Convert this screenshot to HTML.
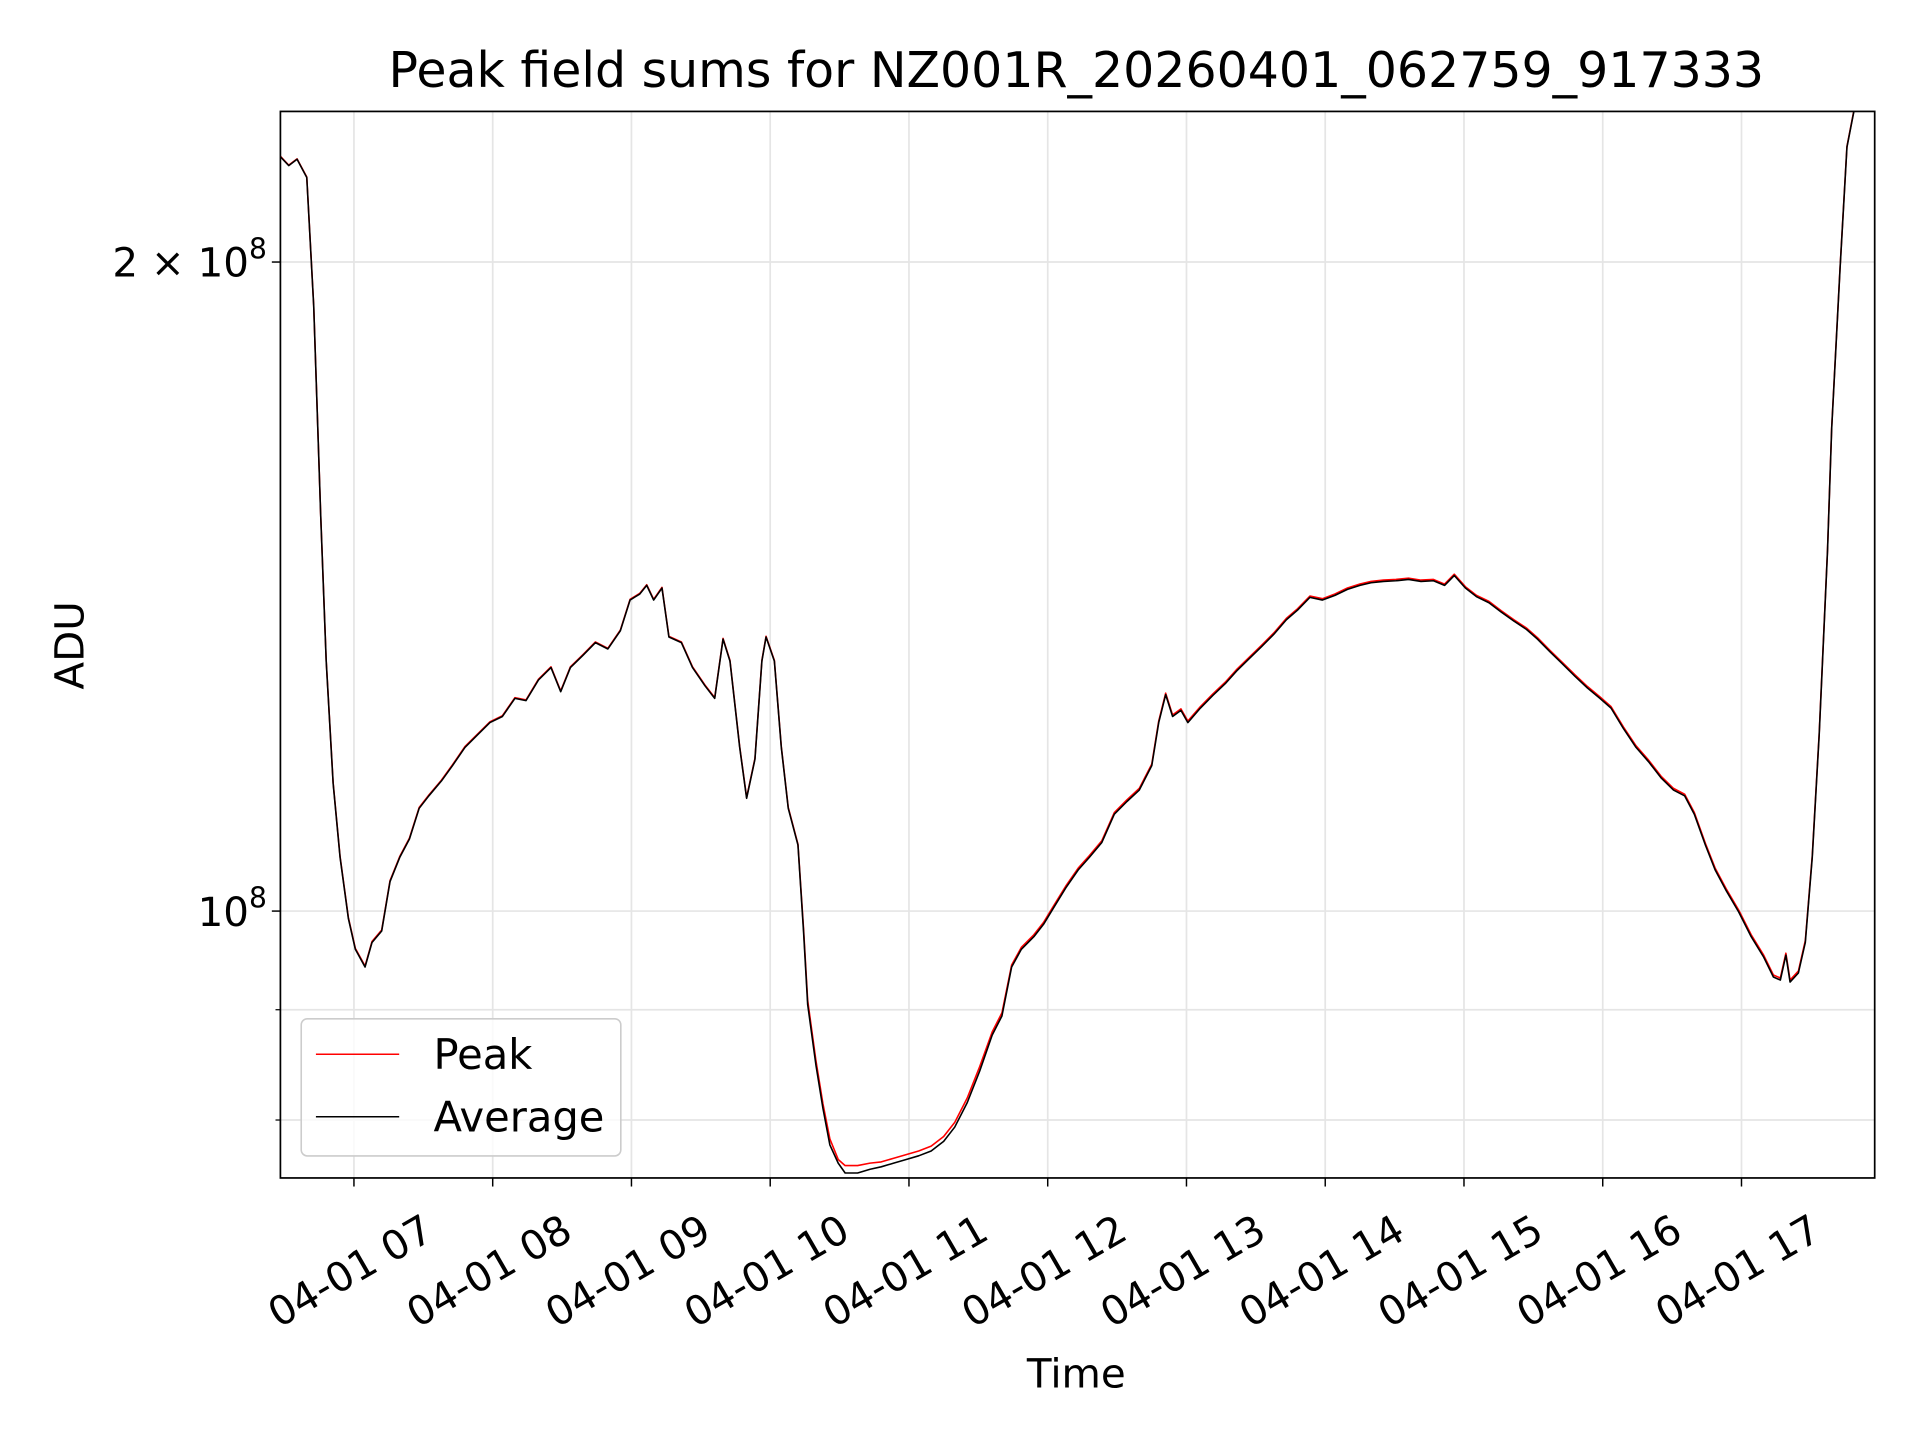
<!DOCTYPE html>
<html><head><meta charset="utf-8"><style>html,body{margin:0;padding:0;background:#fff}svg{display:block}text{font-family:"DejaVu Sans","Liberation Sans",sans-serif;fill:#000}</style></head>
<body>
<svg id="chart" width="1920" height="1440" viewBox="0 0 1568 1176" xmlns="http://www.w3.org/2000/svg">
<rect width="1568" height="1176" fill="#fff"/>
<g id="grid"></g>
<g id="series"></g>
<rect x="229" y="91" width="1302" height="871" fill="none" stroke="#000" stroke-width="1.4"/>
<g id="axes"></g>
<text x="879" y="71" font-size="40" text-anchor="middle">Peak field sums for NZ001R_20260401_062759_917333</text>
<text x="879" y="1133" font-size="33" text-anchor="middle">Time</text>
<text x="68" y="527" font-size="33" text-anchor="middle" transform="rotate(-90 68 527)">ADU</text>
<g>
<rect x="246" y="832" width="261" height="112" rx="5" fill="#fff" fill-opacity="0.8" stroke="#ccc" stroke-width="1.3"/>
<g><line x1="258" y1="861" x2="326" y2="861" stroke="red" stroke-width="1.2"/><text x="354" y="873" font-size="34">Peak</text></g>
<g><line x1="258" y1="912" x2="326" y2="912" stroke="#000" stroke-width="1.2"/><text x="354" y="924" font-size="34">Average</text></g>
</g>
</svg>
<script>
const hours=[6.47,6.53,6.59,6.66,6.71,6.76,6.80,6.85,6.90,6.96,7.01,7.08,7.13,7.20,7.26,7.33,7.40,7.47,7.54,7.63,7.71,7.80,7.89,7.98,8.07,8.16,8.24,8.33,8.42,8.49,8.56,8.65,8.74,8.83,8.92,8.99,9.06,9.11,9.16,9.22,9.27,9.36,9.44,9.53,9.60,9.66,9.71,9.78,9.83,9.89,9.94,9.97,10.03,10.08,10.13,10.20,10.24,10.27,10.33,10.38,10.43,10.49,10.54,10.63,10.72,10.80,10.89,10.98,11.07,11.16,11.25,11.33,11.42,11.51,11.60,11.67,11.74,11.81,11.90,11.97,12.04,12.13,12.22,12.30,12.39,12.48,12.57,12.66,12.75,12.80,12.85,12.90,12.96,13.01,13.10,13.19,13.28,13.36,13.45,13.54,13.63,13.72,13.80,13.89,13.98,14.07,14.16,14.25,14.33,14.42,14.51,14.60,14.69,14.78,14.86,14.93,15.01,15.09,15.18,15.27,15.36,15.45,15.53,15.62,15.71,15.80,15.89,15.98,16.06,16.15,16.24,16.33,16.42,16.51,16.59,16.66,16.74,16.81,16.89,16.98,17.07,17.16,17.23,17.28,17.32,17.35,17.41,17.46,17.51,17.56,17.62,17.65,17.71,17.76,17.81,17.96];
const averageE8=[2.238,2.217,2.232,2.189,1.908,1.528,1.306,1.146,1.059,0.992,0.960,0.942,0.967,0.979,1.032,1.059,1.080,1.116,1.131,1.149,1.168,1.191,1.207,1.223,1.231,1.255,1.252,1.280,1.297,1.264,1.297,1.314,1.332,1.323,1.349,1.394,1.403,1.416,1.394,1.412,1.340,1.332,1.297,1.272,1.255,1.337,1.306,1.191,1.128,1.176,1.306,1.340,1.306,1.191,1.116,1.073,0.979,0.905,0.848,0.810,0.779,0.764,0.756,0.756,0.759,0.761,0.764,0.767,0.770,0.774,0.782,0.794,0.815,0.843,0.876,0.894,0.942,0.960,0.973,0.986,1.003,1.025,1.045,1.059,1.076,1.109,1.124,1.138,1.168,1.223,1.260,1.231,1.239,1.223,1.242,1.259,1.275,1.292,1.309,1.326,1.344,1.365,1.379,1.398,1.394,1.401,1.410,1.416,1.420,1.422,1.423,1.425,1.422,1.423,1.416,1.431,1.412,1.399,1.390,1.376,1.363,1.351,1.337,1.319,1.302,1.285,1.269,1.255,1.242,1.215,1.191,1.173,1.153,1.138,1.131,1.109,1.073,1.045,1.022,0.999,0.973,0.952,0.932,0.929,0.954,0.927,0.936,0.967,1.059,1.207,1.469,1.674,1.984,2.261,2.349,2.37];
const peakE8=[2.239,2.218,2.233,2.190,1.909,1.529,1.307,1.147,1.060,0.993,0.961,0.943,0.968,0.980,1.033,1.060,1.081,1.117,1.132,1.150,1.169,1.192,1.208,1.224,1.232,1.256,1.253,1.281,1.298,1.265,1.298,1.315,1.333,1.324,1.350,1.395,1.404,1.417,1.395,1.413,1.341,1.333,1.298,1.273,1.256,1.338,1.307,1.192,1.129,1.177,1.307,1.341,1.307,1.192,1.117,1.074,0.982,0.909,0.852,0.814,0.784,0.767,0.762,0.762,0.764,0.765,0.768,0.771,0.774,0.778,0.786,0.798,0.819,0.847,0.879,0.897,0.944,0.962,0.975,0.988,1.005,1.027,1.047,1.061,1.078,1.111,1.126,1.140,1.170,1.225,1.262,1.233,1.241,1.225,1.244,1.261,1.277,1.294,1.311,1.328,1.346,1.367,1.381,1.400,1.396,1.403,1.412,1.418,1.422,1.424,1.425,1.427,1.424,1.425,1.418,1.433,1.414,1.401,1.392,1.378,1.365,1.353,1.339,1.321,1.304,1.287,1.271,1.257,1.244,1.217,1.193,1.175,1.155,1.140,1.133,1.111,1.075,1.047,1.024,1.001,0.975,0.954,0.934,0.931,0.956,0.929,0.938,0.969,1.061,1.209,1.471,1.676,1.986,2.263,2.351,2.37];
const xTickHours=[7,8,9,10,11,12,13,14,15,16,17];
const xTickLabels=["04-01 07","04-01 08","04-01 09","04-01 10","04-01 11","04-01 12","04-01 13","04-01 14","04-01 15","04-01 16","04-01 17"];
const yMajorE8=[1,2];
const yMinorE8=[0.8,0.9];

const NS="http://www.w3.org/2000/svg";
const L=229,R=1531,T=91,B=962;
const xMin=6.47,xMax=17.96,yMin=0.752,yMax=2.349;
function sx(h){return L+(h-xMin)/(xMax-xMin)*(R-L);}
function sy(v){return B-(Math.log10(v)-Math.log10(yMin))/(Math.log10(yMax)-Math.log10(yMin))*(B-T);}
function mk(tag,attrs,parent){const e=document.createElementNS(NS,tag);for(const k in attrs)e.setAttribute(k,attrs[k]);parent.appendChild(e);return e;}
const grid=document.getElementById('grid'),axes=document.getElementById('axes'),series=document.getElementById('series');
xTickHours.forEach((h,i)=>{const x=sx(h);
const g=mk('line',{x1:x,x2:x,y1:T,y2:B,stroke:'#e5e5e5','stroke-width':1.4},grid);


const t=mk('line',{x1:x,x2:x,y1:B,y2:B+7,stroke:'#000','stroke-width':1.2},axes);


const cx=x-3,cy=1038;
const lb=mk('text',{x:cx,y:cy,'font-size':33,'text-anchor':'middle','dominant-baseline':'central',transform:`rotate(-30 ${cx} ${cy})`},axes);
lb.textContent=xTickLabels[i];

});
yMajorE8.concat(yMinorE8).forEach((v,i)=>{const y=sy(v);const major=i<yMajorE8.length;
const g=mk('line',{x1:L,x2:R,y1:y,y2:y,stroke:'#e5e5e5','stroke-width':1.4},grid);


const t=mk('line',{x1:L-(major?7:4),x2:L,y1:y,y2:y,stroke:'#000','stroke-width':major?1.2:1},axes);


if(major){const lb=mk('text',{x:L-11,y:y+12,'font-size':33,'text-anchor':'end'},axes);
if(v===1){lb.innerHTML='10<tspan dy="-15" font-size="23">8</tspan>';}else{lb.innerHTML=v+' × 10<tspan dy="-15" font-size="23">8</tspan>';}

}});
const clip=mk('clipPath',{id:'pc'},series);mk('rect',{x:L,y:T,width:R-L,height:B-T},clip);
function path(vals,color,name){const d=hours.map((h,i)=>(i?'L':'M')+sx(h).toFixed(2)+','+sy(vals[i]).toFixed(2)).join('');
const p=mk('path',{d:d,fill:'none',stroke:color,'stroke-width':1.3,'stroke-linejoin':'round','clip-path':'url(#pc)'},series);

}
path(peakE8,'red','peak-line');
path(averageE8,'#000','average-line');
</script>
</body></html>
